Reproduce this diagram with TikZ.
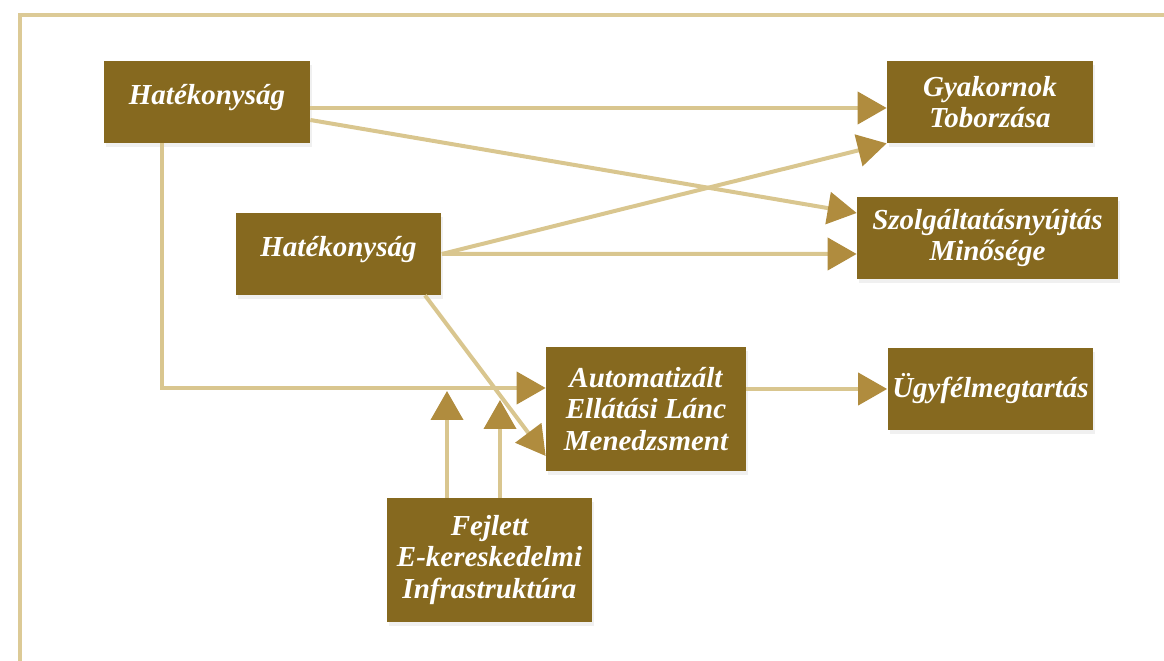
\documentclass[tikz,border=0pt]{standalone}
\usepackage{fontspec}
\setmainfont{Liberation Serif}
\usetikzlibrary{arrows.meta,shadows}
\definecolor{boxgold}{HTML}{86691F}
\definecolor{linegold}{HTML}{D9C68F}
\definecolor{tipgold}{HTML}{B08C3E}
\definecolor{framegold}{HTML}{DCCA96}
\begin{document}
\begin{tikzpicture}[x=0.02cm,y=-0.02cm,
        box/.style={fill=boxgold,text=white,font=\fontsize{16.5}{18}\selectfont\bfseries\itshape,align=center,
            minimum width=4.12cm,minimum height=1.64cm,inner xsep=0.04cm,
            drop shadow={opacity=0.12,shadow xshift=0.04cm,shadow yshift=-0.08cm}},
        tall/.style={minimum height=2.48cm},
        hightext/.style={text height=0.88cm,text depth=0.76cm,inner ysep=0pt},
        link/.style={draw=linegold,line width=0.08cm,-{Triangle[length=0.58cm,width=0.64cm,color=tipgold]}}]
    \useasboundingbox (0,0) rectangle (1164,661);
    \draw [framegold,line width=0.08cm] (1170,15) -- (20,15) -- (20,670);
    \node [box,hightext] (h1) at (207,102) {Hatékonyság};
    \node [box,hightext] (h2) at (338.5,254) {Hatékonyság};
    \node [box] (gyak) at (990,102) {Gyakornok\\Toborzása};
    \node [box,minimum width=5.22cm] (szolg) at (987.5,238) {Szolgáltatásnyújtás\\Minősége};
    \node [box,tall,minimum width=4cm] (auto) at (646,409) {Automatizált\\Ellátási Lánc\\Menedzsment};
    \node [box] (ugy) at (990.5,389) {Ügyfélmegtartás};
    \node [box,tall] (fej) at (489.5,560) {Fejlett\\E-kereskedelmi\\Infrastruktúra};
    \coordinate (up1) at (447,391);
    \coordinate (up2) at (500,400);
    \draw [link] ([yshift=-0.12cm]h1.east) -- ([yshift=-0.12cm]gyak.west);
    \draw [link] ([yshift=-0.36cm]h1.east) -- ([yshift=0.5cm]szolg.west);
    \draw [link] ([xshift=-0.9cm]h1.south) |- ([yshift=0.42cm]auto.west);
    \draw [link] (h2.east) -- (gyak.south west);
    \draw [link] (h2.east) -- ([yshift=-0.32cm]szolg.west);
    \draw [link] ([xshift=1.73cm]h2.south) -- ([yshift=-0.94cm]auto.west);
    \draw [link] (fej.north -| up1) -- (up1);
    \draw [link] (fej.north -| up2) -- (up2);
    \draw [link] (ugy.west -| auto.east) -- (ugy.west);
\end{tikzpicture}
\end{document}
